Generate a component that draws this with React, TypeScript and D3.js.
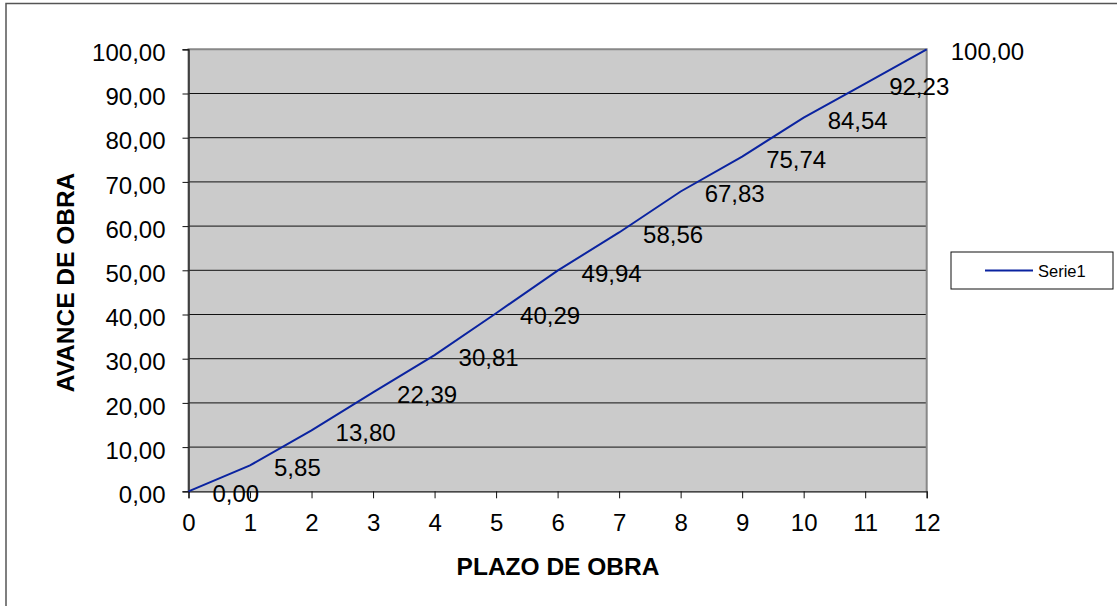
import React, { useEffect, useRef } from 'react';
import * as d3 from 'd3';

// datos del grafico
const plazo = [0, 1, 2, 3, 4, 5, 6, 7, 8, 9, 10, 11, 12];
const avance = [0, 5.85, 13.8, 22.39, 30.81, 40.29, 49.94, 58.56, 67.83, 75.74, 84.54, 92.23, 100];
const yTicks = [0, 10, 20, 30, 40, 50, 60, 70, 80, 90, 100];
const serieName = 'Serie1';

const fmt = (v: number) => v.toFixed(2).replace('.', ',');

function AvanceChart() {
    const svgRef = useRef<SVGSVGElement>(null);

    useEffect(() => {
        const width = 1117;
        const height = 606;
        const left = 188.5, right = 926.7, top = 49.3, bottom = 491.3;
        const font = 'Arial, "Liberation Sans", sans-serif';
        const fs = 24;

        const svg = d3.select(svgRef.current);
        svg.html('');
        svg.attr('width', width).attr('height', height);

        // marco exterior
        svg.append('rect')
            .attr('x', 6).attr('y', 3.5)
            .attr('width', width + 20).attr('height', height + 20)
            .attr('fill', '#fff').attr('stroke', '#555').attr('stroke-width', 1.5);

        const x = d3.scaleLinear().domain([0, 12]).range([left, right]);
        const y = d3.scaleLinear().domain([0, 100]).range([bottom, top]);

        // area del grafico
        svg.append('rect')
            .attr('x', left).attr('y', top)
            .attr('width', right - left).attr('height', bottom - top)
            .attr('fill', '#cbcbcb');

        // lineas de division
        svg.append('g').selectAll('line')
            .data(yTicks.filter(d => d > 0 && d < 100))
            .join('line')
            .attr('x1', left).attr('x2', right)
            .attr('y1', d => y(d)).attr('y2', d => y(d))
            .attr('stroke', '#111').attr('stroke-width', 1);

        // borde del area
        svg.append('path')
            .attr('d', `M${left},${bottom}V${top}H${right}V${bottom}`)
            .attr('fill', 'none').attr('stroke', '#888').attr('stroke-width', 2);

        // eje Y
        const yAxis = svg.append('g')
            .attr('transform', `translate(${left},0)`)
            .call(d3.axisLeft(y).tickValues(yTicks).tickSize(6).tickPadding(17).tickFormat(d => fmt(+d)));
        yAxis.select('.domain').attr('stroke', '#111').attr('stroke-width', 1.2);
        yAxis.selectAll('.tick line').attr('stroke', '#111');
        yAxis.selectAll('.tick text')
            .attr('font-family', font).attr('font-size', fs).attr('fill', '#000').attr('dy', '0.47em');

        // eje X
        const xAxis = svg.append('g')
            .attr('transform', `translate(0,${bottom})`)
            .call(d3.axisBottom(x).tickValues(plazo).tickSize(7).tickPadding(16).tickFormat(d => String(d)));
        xAxis.select('.domain').attr('stroke', '#111').attr('stroke-width', 1.2);
        xAxis.selectAll('.tick line').attr('stroke', '#111');
        xAxis.selectAll('.tick text')
            .attr('font-family', font).attr('font-size', fs).attr('fill', '#000');

        // serie
        const line = d3.line<number>().x((d, i) => x(plazo[i])).y(d => y(d));
        svg.append('path')
            .datum(avance)
            .attr('d', line)
            .attr('fill', 'none').attr('stroke', '#0a23a0').attr('stroke-width', 2);

        // etiquetas de datos
        svg.append('g').selectAll('text')
            .data(avance)
            .join('text')
            .attr('x', (d, i) => x(plazo[i]) + 24)
            .attr('y', d => y(d) + 11)
            .attr('font-family', font).attr('font-size', fs).attr('fill', '#000')
            .text(d => fmt(d));

        // titulos de ejes
        svg.append('text')
            .attr('x', 558).attr('y', 575)
            .attr('text-anchor', 'middle')
            .attr('font-family', font).attr('font-size', 24.5).attr('font-weight', 'bold')
            .text('PLAZO DE OBRA');
        svg.append('text')
            .attr('transform', 'translate(74,282.5) rotate(-90)')
            .attr('text-anchor', 'middle')
            .attr('font-family', font).attr('font-size', 24.5).attr('font-weight', 'bold')
            .text('AVANCE DE OBRA');

        // leyenda
        const legend = svg.append('g');
        legend.append('rect')
            .attr('x', 951).attr('y', 252).attr('width', 162).attr('height', 37)
            .attr('fill', '#fff').attr('stroke', '#111').attr('stroke-width', 1);
        legend.append('line')
            .attr('x1', 985).attr('x2', 1033).attr('y1', 270.5).attr('y2', 270.5)
            .attr('stroke', '#0a23a0').attr('stroke-width', 2);
        legend.append('text')
            .attr('x', 1038).attr('y', 276.5)
            .attr('font-family', font).attr('font-size', 16.5).attr('fill', '#000')
            .text(serieName);
    }, []);

    return <svg ref={svgRef} style={{ position: 'absolute', left: 0, top: 0 }}></svg>;
}

export default function App() {
    return <AvanceChart />;
}
